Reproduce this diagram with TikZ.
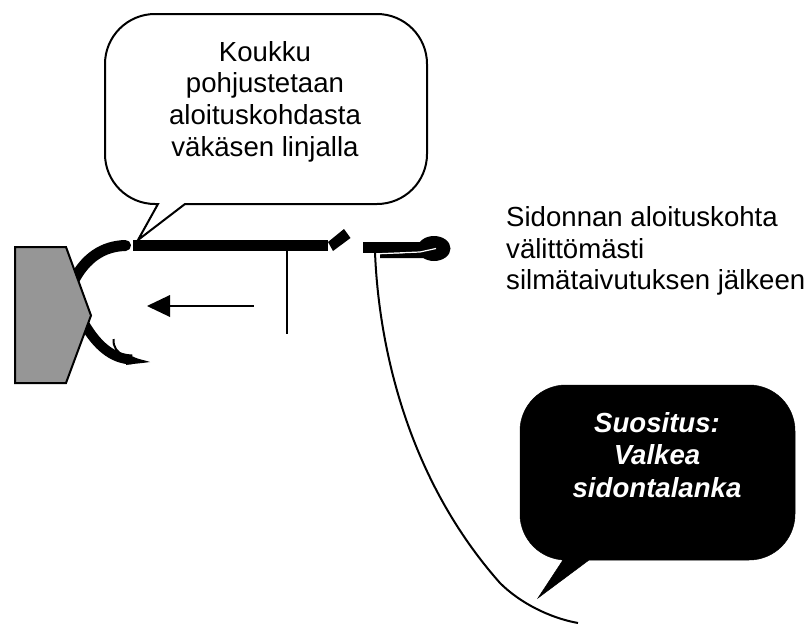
\documentclass[tikz,border=0pt]{standalone}
\usepackage{fontspec}
\setmainfont{Liberation Sans}
\begin{document}
\begin{tikzpicture}[x=1pt,y=-1pt,
  bubble/.style={draw=black,line width=2pt,fill=white,line join=miter},
  darkbubble/.style={draw=black,fill=black,line width=0.5pt},
  label/.style={align=center,font=\fontsize{27.6}{31.7}\selectfont,inner sep=0pt},
  hookline/.style={line width=11pt,line cap=round}]
\useasboundingbox (0,0) rectangle (809,624);
% hook bend (behind vise)
\draw[hookline] (125.5,245.5) .. controls (103,246) and (85,258) .. (73,282);
\draw[hookline,line width=10pt,line cap=butt] (85,325) .. controls (97,345) and (112,359) .. (132,359.5);
\fill (128,354) .. controls (138,360) and (145,360) .. (150,362) .. controls (140,363.5) and (130,364) .. (126,365) -- cycle;
\draw[line width=2pt] (113.5,339) .. controls (113,347) and (117,353) .. (125,356);
% vise
\draw[line width=2pt,fill=black!41] (15,247) -- (66,247) -- (91,315.5) -- (66,383) -- (15,383) -- cycle;
% shank
\fill (132.5,240) rectangle (328,251);
\fill (328,242) -- (344,229) -- (350.5,238) -- (333,251) -- cycle;
\draw[line width=2pt] (287,251) -- (287,334);
% eye
\fill (363,242) rectangle (420,253);
\fill (380,253.5) -- (425,253) -- (428,258) -- (380,258) -- cycle;
\fill (434,248.5) ellipse [x radius=16.5,y radius=12.5];
\draw[white,line width=1.2pt] (380,253.7) -- (420,252) -- (436,248.5);
% thread
\draw[line width=2pt] (375,252) .. controls (378,330) and (400,470) .. (500,583) .. controls (520,603) and (550,618) .. (578,623);
% arrow
\draw[line width=2pt] (170,306) -- (254,306);
\fill (147,306) -- (170,295) -- (170,317) -- cycle;
% light bubble
\draw[bubble] (155,14) -- (377,14) arc[start angle=-90,end angle=0,radius=50] -- (427,154) arc[start angle=0,end angle=90,radius=50] -- (185,204) -- (138,240) -- (158,204) -- (155,204) arc[start angle=90,end angle=180,radius=50] -- (105,64) arc[start angle=180,end angle=270,radius=50] -- cycle;
\node[label] (koukku) at (265,101.5) {Koukku\\pohjustetaan\\aloituskohdasta\\väkäsen linjalla};
% dark bubble
\draw[darkbubble] (566,385) -- (749,385) arc[start angle=-90,end angle=0,radius=46] -- (795,514) arc[start angle=0,end angle=90,radius=46] -- (589,560) -- (538,598) -- (563,560) -- (566,560) arc[start angle=90,end angle=180,radius=46] -- (520,431) arc[start angle=180,end angle=270,radius=46] -- cycle;
\node[label,text=white,font=\fontsize{27.6}{32.5}\selectfont\itshape\bfseries] (suositus) at (657,455) {Suositus:\\Valkea\\sidontalanka};
% start-point text
\node[label,align=left,anchor=west] (aloitus) at (506,251) {Sidonnan aloituskohta\\välittömästi\\silmätaivutuksen jälkeen};
\end{tikzpicture}
\end{document}
